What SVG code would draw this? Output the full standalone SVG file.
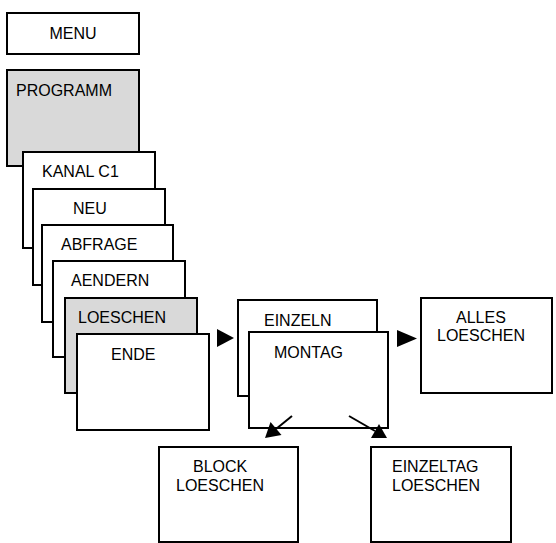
<svg xmlns="http://www.w3.org/2000/svg" width="556" height="543" viewBox="0 0 556 543">
<defs>
<style>
.box{fill:#fff;stroke:#000;stroke-width:2}
.grey{fill:#d9d9d9}
text{font-family:"Liberation Sans",Arial,sans-serif;font-size:16px;fill:#000}
.ln{stroke:#000;stroke-width:2;fill:none}
.head{fill:#000;stroke:none}
</style>
</defs>
<rect width="556" height="543" fill="#fff"/>
<g id="menu"><rect class="box" x="7" y="13" width="132" height="41"/><text x="73" y="39" text-anchor="middle">MENU</text></g>
<g id="programm"><rect class="box grey" x="7" y="70" width="132" height="96"/><text x="16" y="96">PROGRAMM</text></g>
<g id="kanal"><rect class="box" x="23" y="152" width="132" height="96"/><text x="42" y="177">KANAL C1</text></g>
<g id="neu"><rect class="box" x="33" y="189" width="132" height="96"/><text x="73" y="214">NEU</text></g>
<g id="abfrage"><rect class="box" x="42" y="225" width="131" height="97"/><text x="61" y="250">ABFRAGE</text></g>
<g id="aendern"><rect class="box" x="53" y="261" width="132" height="96"/><text x="71" y="286">AENDERN</text></g>
<g id="loeschen"><rect class="box grey" x="65" y="298" width="132" height="95"/><text x="78" y="323">LOESCHEN</text></g>
<g id="ende"><rect class="box" x="77" y="334" width="132" height="96"/><text x="111" y="360">ENDE</text></g>
<g id="einzeln"><rect class="box" x="238" y="300" width="139" height="96"/><text x="264" y="326">EINZELN</text></g>
<g id="montag"><rect class="box" x="249" y="332" width="139" height="96"/><text x="274" y="358">MONTAG</text></g>
<g id="alles"><rect class="box" x="421" y="298" width="131" height="95"/><text x="456" y="323">ALLES</text><text x="437" y="341">LOESCHEN</text></g>
<g id="block"><rect class="box" x="159" y="447" width="139" height="95"/><text x="193" y="472">BLOCK</text><text x="176" y="491">LOESCHEN</text></g>
<g id="einzeltag"><rect class="box" x="371" y="447" width="140" height="95"/><text x="392" y="472">EINZELTAG</text><text x="392" y="491">LOESCHEN</text></g>
<g id="connectors">
<path class="head" d="M217,329 L234,338 L217,347 Z"/>
<path class="head" d="M397,330 L417,338.5 L397,347 Z"/>
<line class="ln" x1="292" y1="416" x2="276" y2="429"/>
<path class="head" d="M265,438 L281.5,435 L270.5,422 Z"/>
<line class="ln" x1="349" y1="416" x2="375" y2="431"/>
<path class="head" d="M387,438 L371,438 L379,424 Z"/>
</g>
</svg>
